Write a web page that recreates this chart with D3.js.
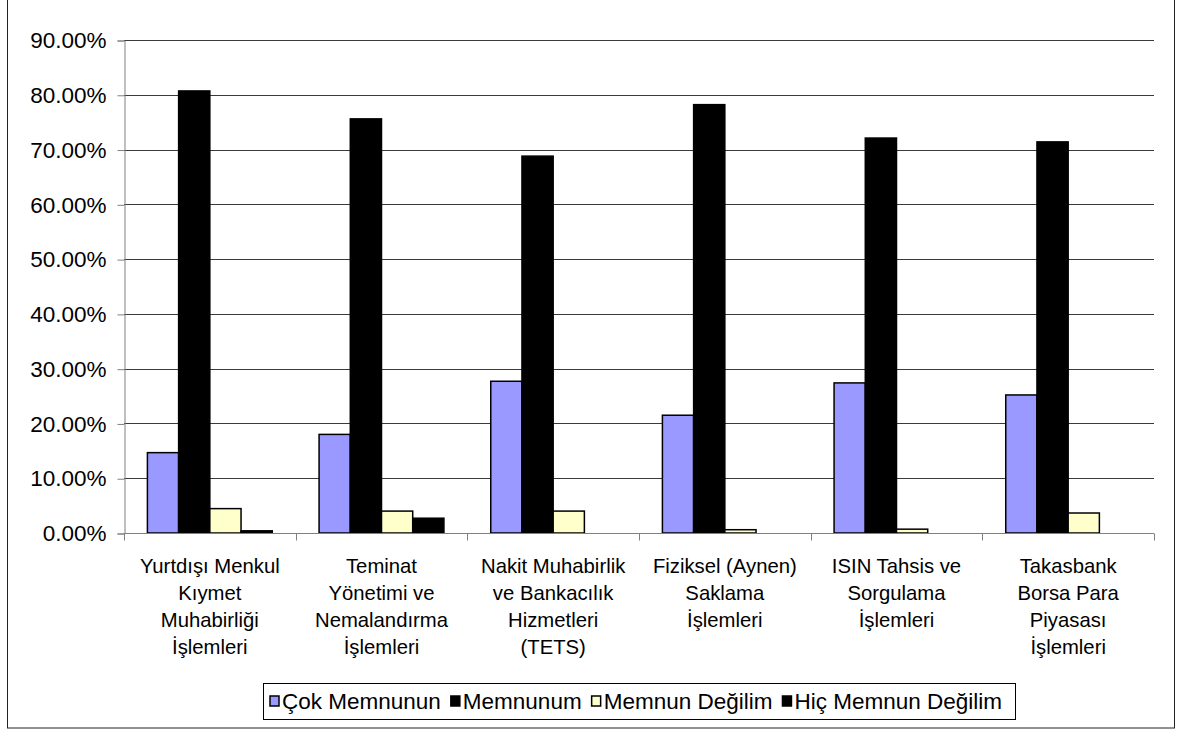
<!DOCTYPE html>
<html>
<head>
<meta charset="utf-8">
<script src="https://cdn.jsdelivr.net/npm/d3@7"></script>
<style>
  html, body { margin: 0; padding: 0; background: #fff; }
  svg { display: block; font-family: "Liberation Sans", Arial, sans-serif; }
</style>
</head>
<body>
<svg id="chart" width="1181" height="731"></svg>
<script>
// Survey categories (services), with the line breaks used under the axis
const categories = [
  ["Yurtdışı Menkul", "Kıymet", "Muhabirliği", "İşlemleri"],
  ["Teminat", "Yönetimi ve", "Nemalandırma", "İşlemleri"],
  ["Nakit Muhabirlik", "ve Bankacılık", "Hizmetleri", "(TETS)"],
  ["Fiziksel (Aynen)", "Saklama", "İşlemleri"],
  ["ISIN Tahsis ve", "Sorgulama", "İşlemleri"],
  ["Takasbank", "Borsa Para", "Piyasası", "İşlemleri"]
];

// Response series
const seriesNames = ["Çok Memnunun", "Memnunum", "Memnun Değilim", "Hiç Memnun Değilim"];
const seriesColors = ["#9999FF", "#000000", "#FFFFCC", "#000000"];

// Share of respondents per category (fractions)
const cokMemnunun      = [0.1467, 0.1800, 0.2770, 0.2150, 0.2740, 0.2520];
const memnunum         = [0.8070, 0.7560, 0.6880, 0.7820, 0.7210, 0.7140];
const memnunDegilim    = [0.0445, 0.0400, 0.0400, 0.0060, 0.0070, 0.0365];
const hicMemnunDegilim = [0.0040, 0.0270, 0.0000, 0.0000, 0.0000, 0.0000];

// Y axis ticks
const yTicks = [0, 0.1, 0.2, 0.3, 0.4, 0.5, 0.6, 0.7, 0.8, 0.9];

const seriesValues = [cokMemnunun, memnunum, memnunDegilim, hicMemnunDegilim];
const catIndex = categories.map((_, i) => i);

const svg = d3.select("#chart");
const TICK_FONT = 22.5;
const CAT_FONT = 20.3;
const LEGEND_FONT = 22.5;

// Outer chart frame
svg.append("rect")
  .attr("x", 7.5).attr("y", -2)
  .attr("width", 1167).attr("height", 730)
  .attr("fill", "#fff").attr("stroke", "#222").attr("stroke-width", 1);

const plot = { left: 124, right: 1154, top: 40, bottom: 533 };

const x0 = d3.scaleBand().domain(catIndex).range([plot.left, plot.right]).padding(0);
const x1 = d3.scaleBand().domain(d3.range(seriesNames.length))
  .range([0, x0.bandwidth()]).paddingInner(0).paddingOuter(0.75);
const y = d3.scaleLinear().domain([0, 0.9]).range([plot.bottom, plot.top]);

// Horizontal gridlines
svg.append("g")
  .selectAll("line")
  .data(yTicks.filter(d => d > 0))
  .join("line")
  .attr("x1", plot.left).attr("x2", plot.right)
  .attr("y1", d => Math.round(y(d)) + 0.5).attr("y2", d => Math.round(y(d)) + 0.5)
  .attr("stroke", "#3a3a3a").attr("stroke-width", 1);

// Y axis
const yAxis = d3.axisLeft(y).tickValues(yTicks).tickFormat(d3.format(".2%"))
  .tickSize(7).tickPadding(11);
const gy = svg.append("g").attr("transform", `translate(${plot.left + 0.5},0.5)`).call(yAxis);
gy.select(".domain").attr("stroke", "#808080");
gy.selectAll(".tick line").attr("stroke", "#808080");
gy.selectAll(".tick text").attr("font-size", TICK_FONT).attr("fill", "#000")
  .attr("font-family", "Liberation Sans, Arial, sans-serif");

// Bars
const groups = svg.append("g").selectAll("g")
  .data(catIndex)
  .join("g")
  .attr("transform", i => `translate(${x0(i)},0)`);

groups.selectAll("rect")
  .data(i => seriesValues.map((vals, s) => ({ s, v: vals[i] })))
  .join("rect")
  .filter(d => d.v > 0)
  .attr("x", d => x1(d.s))
  .attr("y", d => y(d.v))
  .attr("width", x1.bandwidth())
  .attr("height", d => y(0) - y(d.v))
  .attr("fill", d => seriesColors[d.s])
  .attr("stroke", "#000").attr("stroke-width", 1.5);

// X axis
const xAxisG = svg.append("g").attr("transform", `translate(0,${plot.bottom + 0.5})`);
xAxisG.append("line")
  .attr("x1", plot.left).attr("x2", plot.right)
  .attr("stroke", "#808080");
xAxisG.selectAll("line.tick")
  .data(d3.range(categories.length + 1))
  .join("line").attr("class", "tick")
  .attr("x1", i => Math.round(plot.left + i * x0.step()) + 0.5)
  .attr("x2", i => Math.round(plot.left + i * x0.step()) + 0.5)
  .attr("y1", 0).attr("y2", 7)
  .attr("stroke", "#808080");

// Category labels
const labels = svg.append("g").selectAll("text")
  .data(catIndex)
  .join("text")
  .attr("text-anchor", "middle")
  .attr("font-size", CAT_FONT)
  .attr("fill", "#000");
labels.each(function(i) {
  const cx = x0(i) + x0.bandwidth() / 2;
  d3.select(this).selectAll("tspan")
    .data(categories[i])
    .join("tspan")
    .attr("x", cx)
    .attr("y", (d, k) => 573 + k * 27)
    .text(d => d);
});

// Legend
const legend = svg.append("g");
legend.append("rect")
  .attr("x", 263.5).attr("y", 683.5).attr("width", 752).attr("height", 36)
  .attr("fill", "#fff").attr("stroke", "#000").attr("stroke-width", 1);
let lx = 270;
seriesNames.forEach((name, s) => {
  legend.append("rect")
    .attr("x", lx).attr("y", 696).attr("width", 9).attr("height", 10)
    .attr("fill", seriesColors[s]).attr("stroke", "#000").attr("stroke-width", 1.5);
  const t = legend.append("text")
    .attr("x", lx + 12).attr("y", 709)
    .attr("font-size", LEGEND_FONT).attr("fill", "#000")
    .text(name);
  lx += 12 + t.node().getComputedTextLength() + 10;
});
</script>
</body>
</html>
